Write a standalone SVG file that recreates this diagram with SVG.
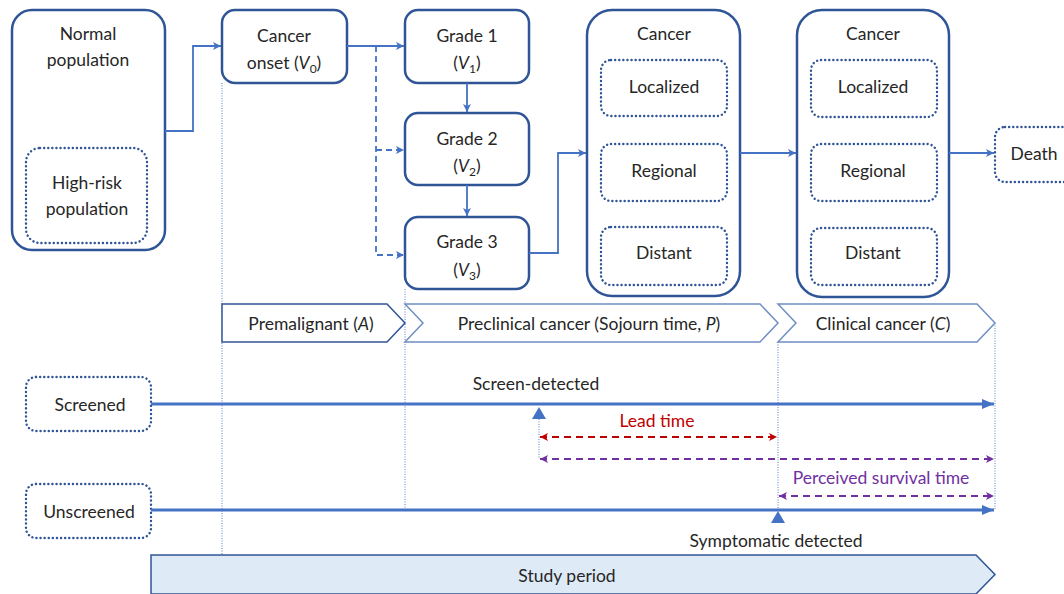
<svg xmlns="http://www.w3.org/2000/svg" width="1064" height="594" viewBox="0 0 1064 594">
<defs>
<marker id="ah" markerUnits="userSpaceOnUse" markerWidth="9" markerHeight="8" refX="8" refY="4" orient="auto"><path d="M0,0 L8,4 L0,8 L2,4 z" fill="#4472C4"/></marker>
<marker id="ahb" markerUnits="userSpaceOnUse" markerWidth="13" markerHeight="10" refX="12" refY="5" orient="auto"><path d="M0,0 L12,5 L0,10 z" fill="#4472C4"/></marker>
<marker id="ar" markerUnits="userSpaceOnUse" markerWidth="9" markerHeight="8" refX="8" refY="4" orient="auto-start-reverse"><path d="M0,0 L8,4 L0,8 L2,4 z" fill="#C00000"/></marker>
<marker id="ap" markerUnits="userSpaceOnUse" markerWidth="9" markerHeight="8" refX="8" refY="4" orient="auto-start-reverse"><path d="M0,0 L8,4 L0,8 L2,4 z" fill="#7030A0"/></marker>
</defs>
<style>
text{font-family:Lato,"Liberation Sans",sans-serif;font-size:17.5px;fill:#262626;text-anchor:middle}
.box{fill:#fff;stroke:#2F5597;stroke-width:2.5}
.dot{fill:#fff;stroke:#2F5597;stroke-width:2.4;stroke-dasharray:0.1 4;stroke-linecap:round}
.con{fill:none;stroke:#4472C4;stroke-width:1.8}
.dash{fill:none;stroke:#4472C4;stroke-width:1.8;stroke-dasharray:6 4}
.tl{fill:none;stroke:#4472C4;stroke-width:3.2}
.vg{fill:none;stroke:#4472C4;stroke-width:0.9;stroke-dasharray:1 1.5}
.ph{fill:#fff;stroke:#2F5597;stroke-width:1.5}
.ph2{fill:#fff;stroke:#6F8FC4;stroke-width:1.5}
.i{font-style:italic}
.s{font-size:12px}
</style>
<rect width="1064" height="594" fill="#fff"/>

<g id="guides">
<line class="vg" x1="222" y1="83" x2="222" y2="555"/>
<line class="vg" x1="405" y1="289" x2="405" y2="508"/>
<line class="vg" x1="778" y1="342" x2="778" y2="510"/>
<line class="vg" x1="995" y1="323" x2="995" y2="510"/>
<line class="vg" x1="539" y1="419" x2="539" y2="459"/>
</g>

<g id="normal">
<rect class="box" x="12" y="10" width="153" height="240" rx="20"/>
<text x="88" y="40">Normal</text>
<text x="88" y="66">population</text>
</g>
<g id="highrisk">
<rect class="dot" x="26" y="148" width="121" height="95" rx="14"/>
<text x="87" y="189">High-risk</text>
<text x="87" y="215">population</text>
</g>
<g id="onset">
<rect class="box" x="222" y="10" width="125" height="73" rx="13"/>
<text x="284" y="42">Cancer</text>
<text x="284" y="69">onset (<tspan class="i">V</tspan><tspan class="s" dy="4">0</tspan><tspan dy="-4">)</tspan></text>
</g>
<g id="grade1">
<rect class="box" x="405" y="10" width="124" height="73" rx="13"/>
<text x="467" y="42">Grade 1</text>
<text x="467" y="69">(<tspan class="i">V</tspan><tspan class="s" dy="4">1</tspan><tspan dy="-4">)</tspan></text>
</g>
<g id="grade2">
<rect class="box" x="405" y="113" width="124" height="72" rx="13"/>
<text x="467" y="145">Grade 2</text>
<text x="467" y="172">(<tspan class="i">V</tspan><tspan class="s" dy="4">2</tspan><tspan dy="-4">)</tspan></text>
</g>
<g id="grade3">
<rect class="box" x="405" y="217" width="124" height="72" rx="13"/>
<text x="467" y="248">Grade 3</text>
<text x="467" y="276">(<tspan class="i">V</tspan><tspan class="s" dy="4">3</tspan><tspan dy="-4">)</tspan></text>
</g>
<g id="cancer1">
<rect class="box" x="587" y="10" width="153" height="286" rx="25"/>
<text x="664" y="40">Cancer</text>
<rect class="dot" x="601" y="60" width="126" height="56" rx="10"/>
<text x="664" y="93">Localized</text>
<rect class="dot" x="601" y="144" width="126" height="57" rx="10"/>
<text x="664" y="177">Regional</text>
<rect class="dot" x="601" y="227" width="126" height="58" rx="10"/>
<text x="664" y="259">Distant</text>
</g>
<g id="cancer2">
<rect class="box" x="797" y="10" width="152" height="287" rx="25"/>
<text x="873" y="40">Cancer</text>
<rect class="dot" x="811" y="60" width="126" height="57" rx="10"/>
<text x="873" y="93">Localized</text>
<rect class="dot" x="811" y="144" width="126" height="57" rx="10"/>
<text x="873" y="177">Regional</text>
<rect class="dot" x="811" y="228" width="126" height="57" rx="10"/>
<text x="873" y="259">Distant</text>
</g>
<g id="death">
<rect class="dot" x="995" y="127" width="80" height="55" rx="10"/>
<text x="1034" y="160">Death</text>
</g>

<g id="connectors">
<path class="con" d="M165,131 H193 V46 H221" marker-end="url(#ah)"/>
<path class="con" d="M347,46 H404" marker-end="url(#ah)"/>
<path class="dash" d="M376,46 V255 H404" marker-end="url(#ah)"/>
<path class="dash" d="M376,150 H404" marker-end="url(#ah)"/>
<path class="con" d="M467,83 V112" marker-end="url(#ah)"/>
<path class="con" d="M467,185 V216" marker-end="url(#ah)"/>
<path class="con" d="M529,253 H558 V153 H586" marker-end="url(#ah)"/>
<path class="con" d="M740,153 H796" marker-end="url(#ah)"/>
<path class="con" d="M949,153 H994" marker-end="url(#ah)"/>
</g>

<g id="phases">
<path class="ph" d="M222,304 H387 L405,323 L387,342 H222 Z"/>
<text x="311" y="330">Premalignant (<tspan class="i">A</tspan>)</text>
<path class="ph2" d="M405,304 H760 L778,323 L760,342 H405 L423,323 Z"/>
<text x="589" y="330">Preclinical cancer (Sojourn time, <tspan class="i">P</tspan>)</text>
<path class="ph2" d="M778,304 H977 L995,323 L977,342 H778 L796,323 Z"/>
<text x="883" y="330">Clinical cancer (<tspan class="i">C</tspan>)</text>
</g>

<g id="screened">
<rect class="dot" x="26" y="377" width="125" height="54" rx="10"/>
<text x="90" y="411">Screened</text>
</g>
<g id="unscreened">
<rect class="dot" x="26" y="484" width="125" height="54" rx="10"/>
<text x="89" y="518">Unscreened</text>
</g>

<g id="timelines">
<path class="tl" d="M151,404 H994" marker-end="url(#ahb)"/>
<text x="536" y="390">Screen-detected</text>
<path d="M539,407 L546,419 L532,419 Z" fill="#4472C4"/>
<text x="657" y="427" style="fill:#C00000">Lead time</text>
<path d="M540,437 H777" fill="none" stroke="#C00000" stroke-width="2" stroke-dasharray="7 5" marker-start="url(#ar)" marker-end="url(#ar)"/>
<path d="M540,459 H994" fill="none" stroke="#7030A0" stroke-width="2" stroke-dasharray="7 5" marker-start="url(#ap)" marker-end="url(#ap)"/>
<text x="881" y="484" style="fill:#7030A0">Perceived survival time</text>
<path d="M779,496 H994" fill="none" stroke="#7030A0" stroke-width="2" stroke-dasharray="7 5" marker-start="url(#ap)" marker-end="url(#ap)"/>
<path class="tl" d="M151,510 H994" marker-end="url(#ahb)"/>
<path d="M778,511 L785,523 L771,523 Z" fill="#4472C4"/>
<text x="776" y="547">Symptomatic detected</text>
</g>

<g id="study">
<path d="M151,555 H976 L995,574.5 L976,594 H151 Z" fill="#DEEBF7" stroke="#2F5597" stroke-width="1.5"/>
<text x="567" y="582">Study period</text>
</g>
</svg>
